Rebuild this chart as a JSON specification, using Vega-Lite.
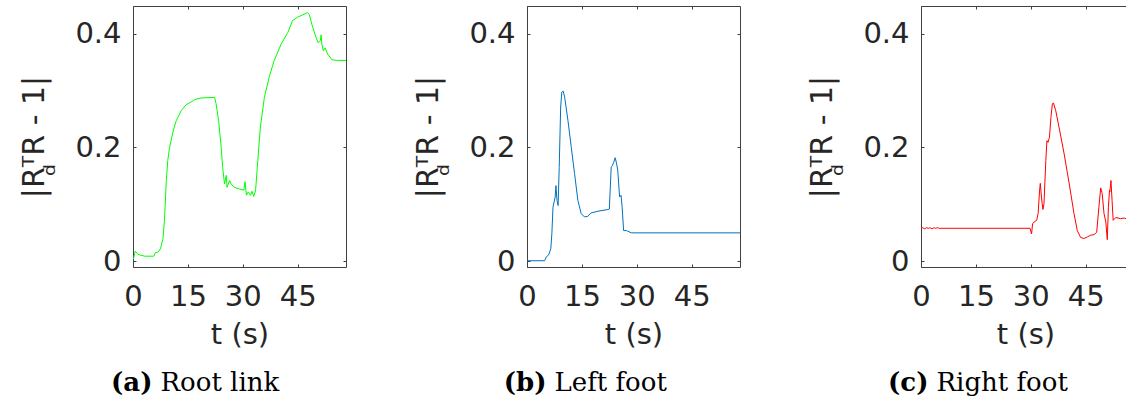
{
  "$schema": "https://vega.github.io/schema/vega-lite/v6.json",
  "padding": {"left": 19, "top": 5, "right": 0, "bottom": 0},
  "background": "white",
  "config": {
    "view": {"stroke": null},
    "axis": {
      "grid": false,
      "domainColor": "#404040",
      "domainWidth": 1,
      "tickColor": "#404040",
      "tickWidth": 1,
      "tickSize": -3,
      "labelFont": "DejaVu Sans",
      "labelFontSize": 29,
      "labelColor": "#262626",
      "labelFlush": false,
      "labelOverlap": false,
      "titleFont": "DejaVu Sans",
      "titleFontSize": 29,
      "titleFontWeight": "normal",
      "titleColor": "#262626"
    }
  },
  "datasets": {
    "rootLink": [
      {"t": 0, "v": 0.004}, {"t": 0.2, "v": 0.006}, {"t": 0.6, "v": 0.018}, {"t": 1.4, "v": 0.012}, {"t": 3.2, "v": 0.009},
      {"t": 5.7, "v": 0.009}, {"t": 6.1, "v": 0.015}, {"t": 6.8, "v": 0.016}, {"t": 7.5, "v": 0.022}, {"t": 8.2, "v": 0.04},
      {"t": 8.6, "v": 0.072}, {"t": 9.1, "v": 0.142}, {"t": 9.5, "v": 0.177}, {"t": 10, "v": 0.2}, {"t": 10.9, "v": 0.227},
      {"t": 11.8, "v": 0.247}, {"t": 13.2, "v": 0.265}, {"t": 14.5, "v": 0.275}, {"t": 15.9, "v": 0.28}, {"t": 16.8, "v": 0.284},
      {"t": 18.6, "v": 0.287}, {"t": 22.3, "v": 0.288}, {"t": 22.7, "v": 0.277}, {"t": 23.4, "v": 0.247}, {"t": 24.1, "v": 0.2},
      {"t": 24.5, "v": 0.165}, {"t": 25, "v": 0.136}, {"t": 25.5, "v": 0.151}, {"t": 25.7, "v": 0.13}, {"t": 26.4, "v": 0.142},
      {"t": 26.8, "v": 0.136}, {"t": 27.7, "v": 0.13}, {"t": 29.1, "v": 0.127}, {"t": 30.3, "v": 0.125}, {"t": 30.6, "v": 0.14},
      {"t": 31, "v": 0.116}, {"t": 31.5, "v": 0.122}, {"t": 32.1, "v": 0.116}, {"t": 32.5, "v": 0.123}, {"t": 33, "v": 0.114},
      {"t": 33.5, "v": 0.125}, {"t": 34.1, "v": 0.177}, {"t": 34.8, "v": 0.236}, {"t": 35.9, "v": 0.288}, {"t": 37.3, "v": 0.326},
      {"t": 38.6, "v": 0.353}, {"t": 40.5, "v": 0.382}, {"t": 42.3, "v": 0.402}, {"t": 43.6, "v": 0.423}, {"t": 45, "v": 0.429},
      {"t": 46.4, "v": 0.433}, {"t": 47.3, "v": 0.436}, {"t": 47.7, "v": 0.437}, {"t": 48.2, "v": 0.433}, {"t": 49.1, "v": 0.411},
      {"t": 50, "v": 0.394}, {"t": 50.6, "v": 0.384}, {"t": 51.2, "v": 0.388}, {"t": 51.4, "v": 0.398}, {"t": 51.6, "v": 0.382},
      {"t": 52, "v": 0.37}, {"t": 52.5, "v": 0.375}, {"t": 53.2, "v": 0.364}, {"t": 54.4, "v": 0.354}, {"t": 55.9, "v": 0.353},
      {"t": 58.2, "v": 0.353}
    ],
    "leftFoot": [
      {"t": 0, "v": 0.001}, {"t": 4.8, "v": 0.001}, {"t": 5.3, "v": 0.008}, {"t": 5.9, "v": 0.011}, {"t": 6.5, "v": 0.022},
      {"t": 6.8, "v": 0.049}, {"t": 7.1, "v": 0.095}, {"t": 7.4, "v": 0.104}, {"t": 7.7, "v": 0.113}, {"t": 7.9, "v": 0.133},
      {"t": 8.2, "v": 0.107}, {"t": 8.5, "v": 0.098}, {"t": 8.8, "v": 0.165}, {"t": 9.2, "v": 0.271}, {"t": 9.5, "v": 0.297},
      {"t": 9.9, "v": 0.299}, {"t": 10.3, "v": 0.288}, {"t": 11.2, "v": 0.247}, {"t": 12.1, "v": 0.2}, {"t": 13, "v": 0.154},
      {"t": 13.9, "v": 0.107}, {"t": 14.8, "v": 0.084}, {"t": 15.7, "v": 0.078}, {"t": 16.6, "v": 0.079}, {"t": 17.5, "v": 0.085},
      {"t": 19.4, "v": 0.088}, {"t": 22.1, "v": 0.091}, {"t": 22.5, "v": 0.092}, {"t": 23, "v": 0.165}, {"t": 23.3, "v": 0.168},
      {"t": 23.7, "v": 0.174}, {"t": 24.1, "v": 0.182}, {"t": 24.5, "v": 0.171}, {"t": 24.8, "v": 0.16}, {"t": 25.3, "v": 0.113},
      {"t": 25.7, "v": 0.116}, {"t": 26, "v": 0.095}, {"t": 26.4, "v": 0.054}, {"t": 27.1, "v": 0.054}, {"t": 27.5, "v": 0.053},
      {"t": 28.5, "v": 0.05}, {"t": 30.3, "v": 0.05}, {"t": 58.2, "v": 0.05}
    ],
    "rightFoot": [
      {"t": 0, "v": 0.058}, {"t": 0.5, "v": 0.059}, {"t": 1, "v": 0.057}, {"t": 1.5, "v": 0.059}, {"t": 2, "v": 0.058},
      {"t": 2.5, "v": 0.059}, {"t": 3, "v": 0.057}, {"t": 3.5, "v": 0.059}, {"t": 4, "v": 0.058}, {"t": 4.5, "v": 0.059},
      {"t": 5, "v": 0.058}, {"t": 29.8, "v": 0.058}, {"t": 30.2, "v": 0.048}, {"t": 30.5, "v": 0.066}, {"t": 30.9, "v": 0.069},
      {"t": 31.6, "v": 0.072}, {"t": 32, "v": 0.084}, {"t": 32.4, "v": 0.125}, {"t": 32.6, "v": 0.137}, {"t": 32.9, "v": 0.113},
      {"t": 33.3, "v": 0.091}, {"t": 33.6, "v": 0.101}, {"t": 34.1, "v": 0.177}, {"t": 34.4, "v": 0.212}, {"t": 34.7, "v": 0.209},
      {"t": 35.1, "v": 0.218}, {"t": 35.5, "v": 0.253}, {"t": 35.9, "v": 0.277}, {"t": 36.2, "v": 0.278}, {"t": 36.8, "v": 0.265},
      {"t": 37.7, "v": 0.236}, {"t": 39.1, "v": 0.189}, {"t": 40.5, "v": 0.136}, {"t": 41.8, "v": 0.084}, {"t": 42.7, "v": 0.054},
      {"t": 43.6, "v": 0.042}, {"t": 44.5, "v": 0.04}, {"t": 45.5, "v": 0.043}, {"t": 46.4, "v": 0.046}, {"t": 47.3, "v": 0.047},
      {"t": 48, "v": 0.051}, {"t": 48.6, "v": 0.095}, {"t": 49.1, "v": 0.129}, {"t": 49.5, "v": 0.119}, {"t": 50, "v": 0.084},
      {"t": 50.5, "v": 0.069}, {"t": 50.9, "v": 0.038}, {"t": 51.2, "v": 0.095}, {"t": 51.5, "v": 0.125}, {"t": 51.6, "v": 0.122},
      {"t": 51.9, "v": 0.142}, {"t": 52.2, "v": 0.107}, {"t": 52.5, "v": 0.072}, {"t": 53.2, "v": 0.077}, {"t": 54.5, "v": 0.075},
      {"t": 55.5, "v": 0.076}, {"t": 56.5, "v": 0.074}, {"t": 58.2, "v": 0.075}
    ],
    "capA": [{"tag": "(a)", "name": "Root link"}],
    "capB": [{"tag": "(b)", "name": "Left foot"}],
    "capC": [{"tag": "(c)", "name": "Right foot"}]
  },
  "hconcat": [
    {
      "bounds": "flush",
      "spacing": 114,
      "vconcat": [
        {
          "width": 213,
          "height": 261,
          "data": {"name": "rootLink"},
          "layer": [
            {
              "mark": {"type": "line", "color": "#00ff00", "strokeWidth": 1, "clip": true},
              "encoding": {
                "x": {"field": "t", "type": "quantitative", "scale": {"domain": [0, 58.2], "nice": false, "zero": false},
                      "axis": {"orient": "bottom", "values": [0, 15, 30, 45], "labelPadding": 18, "titlePadding": 9, "title": "t (s)"}},
                "y": {"field": "v", "type": "quantitative", "scale": {"domain": [-0.01, 0.4486], "nice": false, "zero": false},
                      "axis": {"orient": "left", "values": [0, 0.2, 0.4], "format": "~g", "labelPadding": 15, "titlePadding": 4,
                               "titleFontSize": 30, "titleLineHeight": 21,
                               "title": ["|R\u1d40R - 1|", "\u1d48\u2800\u2800\u2800"]}}
              }
            },
            {
              "mark": {"type": "line", "strokeOpacity": 0},
              "encoding": {
                "x": {"field": "t", "type": "quantitative", "scale": {"domain": [0, 58.2], "nice": false, "zero": false},
                      "axis": {"orient": "top", "values": [0, 15, 30, 45], "labels": false, "title": null}},
                "y": {"field": "v", "type": "quantitative", "scale": {"domain": [-0.01, 0.4486], "nice": false, "zero": false},
                      "axis": {"orient": "right", "values": [0, 0.2, 0.4], "labels": false, "title": null}}
              }
            }
          ],
          "resolve": {"axis": {"x": "independent", "y": "independent"}}
        },
        {
          "width": 213,
          "height": 20,
          "data": {"name": "capA"},
          "layer": [
            {"mark": {"type": "text", "font": "DejaVu Serif", "fontSize": 26, "fontWeight": "bold", "align": "right", "baseline": "alphabetic", "dx": -87, "color": "#000000"},
             "encoding": {"text": {"field": "tag"}}},
            {"mark": {"type": "text", "font": "DejaVu Serif", "fontSize": 26, "fontWeight": "normal", "align": "left", "baseline": "alphabetic", "dx": -79, "color": "#000000"},
             "encoding": {"text": {"field": "name"}}}
          ]
        }
      ]
    },
    {
      "bounds": "flush",
      "spacing": 114,
      "vconcat": [
        {
          "width": 213,
          "height": 261,
          "data": {"name": "leftFoot"},
          "layer": [
            {
              "mark": {"type": "line", "color": "#0072BD", "strokeWidth": 1, "clip": true},
              "encoding": {
                "x": {"field": "t", "type": "quantitative", "scale": {"domain": [0, 58.2], "nice": false, "zero": false},
                      "axis": {"orient": "bottom", "values": [0, 15, 30, 45], "labelPadding": 18, "titlePadding": 9, "title": "t (s)"}},
                "y": {"field": "v", "type": "quantitative", "scale": {"domain": [-0.01, 0.4486], "nice": false, "zero": false},
                      "axis": {"orient": "left", "values": [0, 0.2, 0.4], "format": "~g", "labelPadding": 15, "titlePadding": 4,
                               "titleFontSize": 30, "titleLineHeight": 21,
                               "title": ["|R\u1d40R - 1|", "\u1d48\u2800\u2800\u2800"]}}
              }
            },
            {
              "mark": {"type": "line", "strokeOpacity": 0},
              "encoding": {
                "x": {"field": "t", "type": "quantitative", "scale": {"domain": [0, 58.2], "nice": false, "zero": false},
                      "axis": {"orient": "top", "values": [0, 15, 30, 45], "labels": false, "title": null}},
                "y": {"field": "v", "type": "quantitative", "scale": {"domain": [-0.01, 0.4486], "nice": false, "zero": false},
                      "axis": {"orient": "right", "values": [0, 0.2, 0.4], "labels": false, "title": null}}
              }
            }
          ],
          "resolve": {"axis": {"x": "independent", "y": "independent"}}
        },
        {
          "width": 213,
          "height": 20,
          "data": {"name": "capB"},
          "layer": [
            {"mark": {"type": "text", "font": "DejaVu Serif", "fontSize": 26, "fontWeight": "bold", "align": "right", "baseline": "alphabetic", "dx": -87, "color": "#000000"},
             "encoding": {"text": {"field": "tag"}}},
            {"mark": {"type": "text", "font": "DejaVu Serif", "fontSize": 26, "fontWeight": "normal", "align": "left", "baseline": "alphabetic", "dx": -79, "color": "#000000"},
             "encoding": {"text": {"field": "name"}}}
          ]
        }
      ]
    },
    {
      "bounds": "flush",
      "spacing": 114,
      "vconcat": [
        {
          "width": 209,
          "height": 261,
          "data": {"name": "rightFoot"},
          "layer": [
            {
              "mark": {"type": "line", "color": "#ff0000", "strokeWidth": 1, "clip": true},
              "encoding": {
                "x": {"field": "t", "type": "quantitative", "scale": {"domain": [0, 57.1], "nice": false, "zero": false},
                      "axis": {"orient": "bottom", "values": [0, 15, 30, 45], "labelPadding": 18, "titlePadding": 9, "title": "t (s)"}},
                "y": {"field": "v", "type": "quantitative", "scale": {"domain": [-0.01, 0.4486], "nice": false, "zero": false},
                      "axis": {"orient": "left", "values": [0, 0.2, 0.4], "format": "~g", "labelPadding": 15, "titlePadding": 4,
                               "titleFontSize": 30, "titleLineHeight": 21,
                               "title": ["|R\u1d40R - 1|", "\u1d48\u2800\u2800\u2800"]}}
              }
            },
            {
              "mark": {"type": "line", "strokeOpacity": 0},
              "encoding": {
                "x": {"field": "t", "type": "quantitative", "scale": {"domain": [0, 57.1], "nice": false, "zero": false},
                      "axis": {"orient": "top", "values": [0, 15, 30, 45], "labels": false, "title": null}}
              }
            }
          ],
          "resolve": {"axis": {"x": "independent", "y": "independent"}}
        },
        {
          "width": 209,
          "height": 20,
          "data": {"name": "capC"},
          "layer": [
            {"mark": {"type": "text", "font": "DejaVu Serif", "fontSize": 26, "fontWeight": "bold", "align": "right", "baseline": "alphabetic", "dx": -97, "color": "#000000"},
             "encoding": {"text": {"field": "tag"}}},
            {"mark": {"type": "text", "font": "DejaVu Serif", "fontSize": 26, "fontWeight": "normal", "align": "left", "baseline": "alphabetic", "dx": -89, "color": "#000000"},
             "encoding": {"text": {"field": "name"}}}
          ]
        }
      ]
    }
  ],
  "spacing": 66
}
